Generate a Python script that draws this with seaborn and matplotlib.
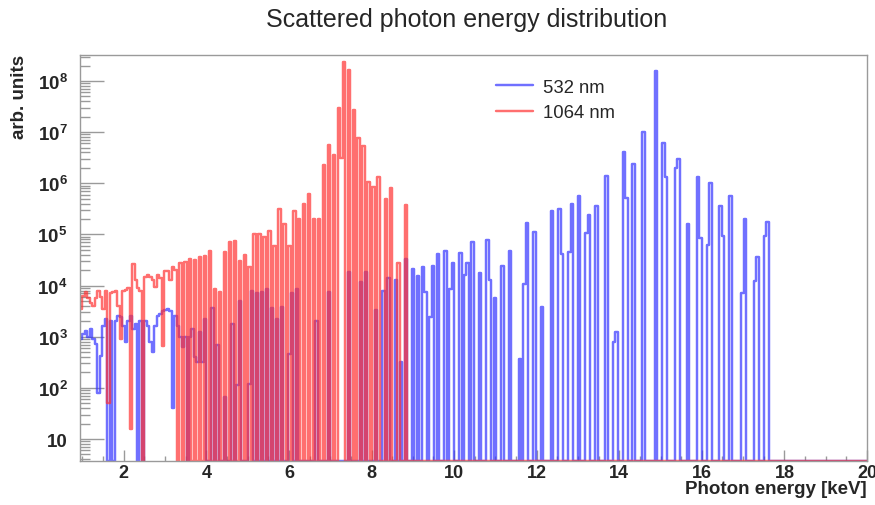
import numpy as np
import pandas as pd
import matplotlib
matplotlib.use("Agg")
import matplotlib.pyplot as plt
import seaborn as sns
from matplotlib.ticker import MultipleLocator, LogLocator, NullFormatter

# ---------------- data (bin contents) ----------------
bin_width = 0.06          # keV
e_min, e_max = 0.94, 20.02

# 532 nm : bin centre energy [keV] and log10(counts); bins not listed are empty
blue_energy = [0.97, 1.03, 1.09, 1.15, 1.21, 1.27, 1.33, 1.39, 1.45, 1.51, 1.57, 1.69, 1.81,
               1.87, 1.93, 1.99, 2.05, 2.11, 2.17, 2.23, 2.29, 2.41, 2.53, 2.59, 2.65, 2.71,
               2.77, 2.83, 2.89, 2.95, 3.01, 3.07, 3.13, 3.19, 3.25, 3.31, 3.37, 3.43, 3.49,
               3.61, 3.67, 3.73, 3.79, 3.85, 3.91, 3.97,
               4.15, 4.27, 4.45, 4.63, 4.75, 4.81, 5.05, 5.11, 5.23, 5.35, 5.47, 5.59, 5.71,
               5.83, 6.01, 6.07, 6.19, 6.67, 6.97, 7.45, 7.75, 7.87, 8.11, 8.29, 8.41, 8.59,
               8.71, 8.83, 9.01, 9.13, 9.25, 9.31, 9.43, 9.49, 9.61, 9.79, 9.91, 9.97, 10.15,
               10.27, 10.33, 10.45, 10.63, 10.81, 10.87, 10.99, 11.17, 11.35, 11.59, 11.71,
               11.77, 11.95, 12.13, 12.37, 12.55, 12.61, 12.79, 12.85, 13.03, 13.21, 13.27,
               13.45, 13.69, 13.87, 13.93, 14.11, 14.17, 14.35, 14.59, 14.89, 15.07, 15.13,
               15.37, 15.43, 15.67, 15.91, 15.97, 16.15, 16.21, 16.45, 16.51, 16.69, 16.99,
               17.05, 17.29, 17.35, 17.53, 17.59]
blue_log10 = [2.95, 3.05, 3.12, 3.00, 3.15, 2.95, 2.85, 1.90, 2.62, 3.20, 3.35, 3.30, 3.30,
              3.41, 3.38, 3.20, 2.90, 3.30, 3.40, 3.15, 3.25, 3.30, 3.30, 3.20, 2.90, 2.70,
              3.20, 3.40, 3.45, 3.50, 3.52, 3.55, 3.50, 1.60, 3.40, 3.20, 3.00, 2.80, 3.00,
              3.00, 3.15, 2.60, 2.50, 3.10, 2.50, 3.35,
              3.56, 2.83, 1.82, 3.25, 2.06, 3.69, 2.08, 3.90, 3.85, 3.87, 3.93, 3.56, 3.35,
              3.58, 2.67, 3.86, 3.93, 3.31, 3.87, 4.27, 4.06, 4.27, 3.52, 3.89, 4.15, 4.11,
              2.50, 4.52, 4.32, 4.18, 4.36, 3.88, 3.39, 4.38, 4.62, 4.68, 3.93, 4.45, 4.64,
              4.20, 4.45, 4.86, 4.25, 4.89, 4.10, 3.76, 4.38, 4.68, 2.56, 4.04,
              5.22, 5.04, 3.59, 5.45, 5.50, 4.61, 4.66, 5.59, 5.75, 5.03, 5.38,
              5.56, 6.15, 2.90, 3.10, 6.61, 5.71, 6.37, 7.00, 8.20, 6.78, 6.13,
              6.29, 6.47, 5.20, 6.13, 4.93, 4.79, 6.01, 5.56, 4.96, 5.75, 3.85,
              5.30, 4.08, 4.55, 4.96, 5.25]

# 1064 nm
red_energy = [0.97, 1.03, 1.09, 1.15, 1.21, 1.27, 1.33, 1.39, 1.45, 1.51, 1.57, 1.63, 1.69,
              1.75, 1.81, 1.87, 1.93, 1.99, 2.05, 2.11, 2.17, 2.23, 2.29, 2.35, 2.41, 2.53,
              2.59, 2.65, 2.71, 2.77, 2.83, 2.89, 2.95, 3.01, 3.07, 3.13, 3.19, 3.25, 3.37,
              3.49, 3.61, 3.73, 3.85, 3.97, 4.09, 4.21, 4.33, 4.45, 4.57, 4.69, 4.81, 4.93,
              5.05, 5.17, 5.29, 5.41, 5.53, 5.65, 5.77, 5.89, 6.01, 6.13, 6.25, 6.37, 6.49,
              6.61, 6.73, 6.85, 6.97, 7.09, 7.21, 7.27, 7.33, 7.45, 7.57, 7.69, 7.81, 7.93,
              8.05, 8.17, 8.35, 8.47, 8.65, 8.83]
red_log10 = [3.54, 3.80, 3.87, 3.75, 3.65, 3.60, 3.75, 3.90, 3.78, 3.55, 3.90, 1.70, 3.85,
             3.87, 3.90, 3.60, 2.96, 3.90, 3.92, 3.95, 1.20, 4.42, 4.10, 3.95, 3.90, 4.17,
             4.20, 4.17, 4.10, 3.98, 4.20, 4.15, 2.82, 4.29, 4.29, 4.10, 4.36, 4.30, 4.45,
             4.46, 4.52, 4.50, 4.55, 4.58, 4.68, 3.93, 3.88, 4.65, 4.85, 4.88, 4.49, 4.59,
             4.36, 5.00, 5.00, 4.94, 5.07, 4.78, 5.50, 5.21, 4.78, 5.46, 5.30, 5.59, 5.79,
             5.30, 5.31, 6.35, 6.75, 6.55, 7.47, 6.49, 8.38, 8.22, 7.43, 6.88, 6.72, 6.03,
             5.93, 6.13, 5.69, 5.90, 4.44, 5.58]

series_labels = ["532 nm", "1064 nm"]
series_colors = ["#3434ff", "#ff3232"]
title_text = "Scattered photon energy distribution"
x_label = "Photon energy [keV]"
y_label = "arb. units"
x_tick_values = [2, 4, 6, 8, 10, 12, 14, 16, 18, 20]
y_decades = [1, 2, 3, 4, 5, 6, 7, 8]
y_limits = (10 ** 0.57, 10 ** 8.508)
x_limits = (0.94, 20.0)

# ---------------- build histogram table ----------------
n_bins = int(round((e_max - e_min) / bin_width))
centres = e_min + bin_width * (np.arange(n_bins) + 0.5)


def fill_bins(energy, logv):
    counts = np.zeros(n_bins)
    idx = np.floor((np.asarray(energy) - e_min) / bin_width).astype(int)
    counts[idx] = 10.0 ** np.asarray(logv)
    # empty bins are drawn on the lower frame edge, as ROOT does
    return np.maximum(counts, y_limits[0])


frames = []
for lab, e, v in zip(series_labels, [blue_energy, red_energy], [blue_log10, red_log10]):
    frames.append(pd.DataFrame({"energy": centres, "counts": fill_bins(e, v), "laser": lab}))
df = pd.concat(frames, ignore_index=True)

# ---------------- plot ----------------
sns.set_theme(style="white")
plt.rcParams["font.family"] = ["Liberation Sans", "DejaVu Sans"]
plt.rcParams["mathtext.fontset"] = "custom"
plt.rcParams["mathtext.rm"] = "Liberation Sans"
plt.rcParams["mathtext.bf"] = "Liberation Sans:bold"

fig = plt.figure(figsize=(8.75, 5.06), dpi=100)
ax = fig.add_axes([80 / 875, 1 - 462 / 506, 787 / 875, 406 / 506])

sns.lineplot(data=df, x="energy", y="counts", hue="laser", hue_order=series_labels,
             palette=dict(zip(series_labels, series_colors)), estimator=None,
             drawstyle="steps-mid", linewidth=1.75, alpha=0.7, ax=ax)

ax.set_yscale("log")
ax.set_xlim(*x_limits)
ax.set_ylim(*y_limits)

frame_col = "#9a9a9a"
for sp in ax.spines.values():
    sp.set_color(frame_col)
    sp.set_linewidth(1.0)

ax.set_xticks(x_tick_values, labels=[str(t) for t in x_tick_values],
              fontweight="bold", fontsize=13)
ax.xaxis.set_minor_locator(MultipleLocator(0.5))
ax.set_yticks([10.0 ** d for d in y_decades],
              labels=["10" if d == 1 else r"$\mathbf{10^{%d}}$" % d for d in y_decades],
              fontweight="bold", fontsize=13.5)
ax.yaxis.set_minor_locator(LogLocator(base=10, subs=np.arange(2, 10), numticks=30))
ax.yaxis.set_minor_formatter(NullFormatter())

ax.tick_params(axis="x", which="major", direction="in", length=8, width=1,
               color=frame_col, pad=2, top=False, bottom=True)
ax.tick_params(axis="x", which="minor", direction="in", length=3.6, width=1,
               color=frame_col, top=False, bottom=True)
ax.tick_params(axis="y", which="major", direction="in", length=17, width=1,
               color=frame_col, pad=9, left=True, right=False)
ax.tick_params(axis="y", which="minor", direction="in", length=7, width=1,
               color=frame_col, left=True, right=False)

ax.set_xlabel("")
ax.set_ylabel("")
fig.text(867 / 875, 1 - 490 / 506, x_label, ha="right", va="center",
         fontsize=13.5, fontweight="bold")
fig.text(19 / 875, 1 - 55 / 506, y_label, ha="center", va="top", rotation=90,
         fontsize=13.5, fontweight="bold")
fig.text(467 / 875, 1 - 20 / 506, title_text, ha="center", va="center", fontsize=18)

handles, labels = ax.get_legend_handles_labels()
ax.legend(handles, labels, loc="upper left", bbox_to_anchor=(0.5286, 0.941),
          frameon=False, fontsize=13.3, handlelength=2.0, handletextpad=0.55,
          labelspacing=0.45, borderpad=0, borderaxespad=0)

fig.savefig("out.png", dpi=100)
